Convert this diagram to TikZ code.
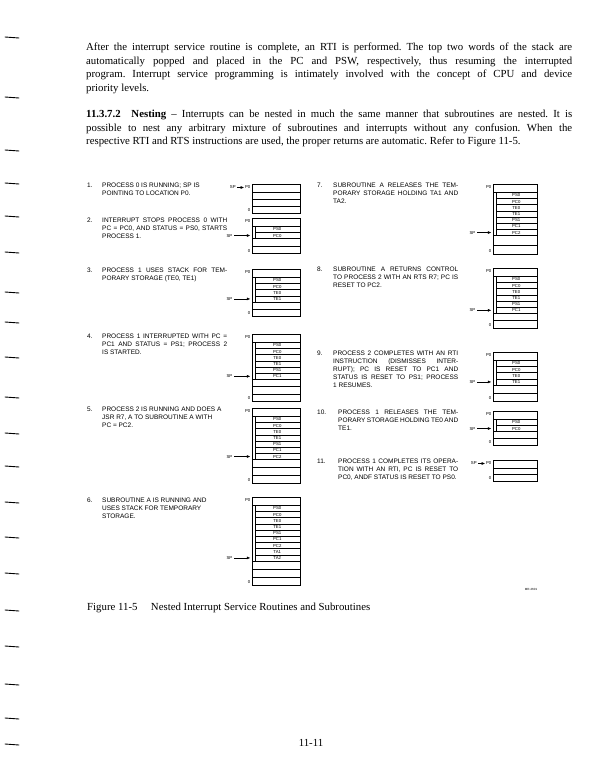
\documentclass[tikz,border=0pt]{standalone}
\usepackage{fontspec}
\setmainfont{Liberation Serif}
\newfontfamily\figsans{Liberation Sans}
\usetikzlibrary{arrows.meta,positioning}
\frenchspacing

% a line spread to the full width
\newcommand{\jl}[2][125pt]{\makebox[#1][s]{#2}}

% stack: name, left x, right x, top y, no. of entries, entries, empty rows, empty row height
\newcommand{\stackpic}[8]{%
  \pgfmathsetmacro{\stent}{#4+8}%
  \pgfmathsetmacro{\stemp}{\stent+#5*6.2}%
  \pgfmathsetmacro{\stbot}{\stemp+#7*#8}%
  \node[stacklbl, anchor=east] (#1-p0) at ({#2-1.5},{#4+3.5}) {P0};
  \draw[stackline] (#2,\stent) -- (#3,\stent);
  \ifnum#5>0
    \foreach \e [count=\i] in {#6}
      \node[entry, minimum width={(#3-#2-3)*1pt}, anchor=north east]
        (#1-\i) at (#3,{\stent+(\i-1)*6.2}) {\e};
  \fi
  \foreach \j in {1,...,#7}
    \draw[stackline] (#2,{\stemp+(\j-1)*#8}) -- (#3,{\stemp+(\j-1)*#8});
  \draw[stackline] (#2,#4) rectangle (#3,\stbot);
  \node[stacklbl, anchor=east] (#1-zero) at ({#2-1.5},{\stbot-3}) {0};
}

\begin{document}
\begin{tikzpicture}[x=1pt, y=-1pt,
    bodytxt/.style={font=\fontsize{10.8}{13.5}\selectfont, inner sep=0,
                    anchor=north west, align=left},
    itemnum/.style={font=\figsans\fontsize{6.5}{8}\selectfont, inner sep=0,
                    anchor=north west},
    itemtxt/.style={itemnum, align=left},
    stacklbl/.style={font=\figsans\fontsize{4.3}{5}\selectfont, inner sep=0},
    entry/.style={draw, line width=0.45pt, minimum height=6.2pt, inner sep=0,
                  font=\figsans\fontsize{4.3}{5}\selectfont},
    stackline/.style={line width=0.6pt},
    sparrow/.style={-{Triangle[length=3.2pt,width=2.6pt]}, line width=0.5pt},
    marginmark/.style={line width=0.9pt, line cap=round},
  ]
  \fill[white] (0,0) rectangle (604,783);
  \useasboundingbox (0,0) rectangle (604,783);

  % binder marks on the left edge
  \foreach \y in {37,97,150,183,216,252,292,322,357,397,433,466,502,537,573,610,646,684,718,744}
    \draw[marginmark] (5,\y) -- (19,\y+1);

  % running text
  \node[bodytxt] (para1) at (86,43) {%
    \jl[486pt]{After the interrupt service routine is complete, an RTI is performed. The top two words of the stack are}\\
    \jl[486pt]{automatically popped and placed in the PC and PSW, respectively, thus resuming the interrupted}\\
    \jl[486pt]{program. Interrupt service programming is intimately involved with the concept of CPU and device}\\
    priority levels.};
  \node[bodytxt] (para2) at (86,110) {%
    \jl[486pt]{\textbf{11.3.7.2\quad Nesting} – Interrupts can be nested in much the same manner that subroutines are nested. It is}\\
    \jl[486pt]{possible to nest any arbitrary mixture of subroutines and interrupts without any confusion. When the}\\
    respective RTI and RTS instructions are used, the proper returns are automatic. Refer to Figure 11-5.};

  % left column
  \node[itemnum] (n1) at (87,182.4) {1.};
  \node[itemtxt] (t1) at (102,182.4) {PROCESS 0 IS RUNNING; SP IS\\
    POINTING TO LOCATION P0.};
  \node[itemnum] (n2) at (87,217.4) {2.};
  \node[itemtxt] (t2) at (102,217.4) {\jl{INTERRUPT STOPS PROCESS 0 WITH}\\
    \jl{PC = PC0, AND STATUS = PS0, STARTS}\\ PROCESS 1.};
  \node[itemnum] (n3) at (87,267.4) {3.};
  \node[itemtxt] (t3) at (102,267.4) {\jl{PROCESS 1 USES STACK FOR TEM-}\\
    PORARY STORAGE (TE0, TE1)};
  \node[itemnum] (n4) at (87,333.4) {4.};
  \node[itemtxt] (t4) at (102,333.4) {\jl{PROCESS 1 INTERRUPTED WITH PC =}\\
    \jl{PC1 AND STATUS = PS1; PROCESS 2}\\ IS STARTED.};
  \node[itemnum] (n5) at (87,406.4) {5.};
  \node[itemtxt] (t5) at (102,406.4) {PROCESS 2 IS RUNNING AND DOES A\\
    JSR R7, A TO SUBROUTINE A WITH\\ PC = PC2.};
  \node[itemnum] (n6) at (87,497.4) {6.};
  \node[itemtxt] (t6) at (102,497.4) {SUBROUTINE A IS RUNNING AND\\
    USES STACK FOR TEMPORARY\\ STORAGE.};

  % right column
  \node[itemnum] (n7) at (317,182.4) {7.};
  \node[itemtxt] (t7) at (333,182.4) {\jl{SUBROUTINE A RELEASES THE TEM-}\\
    \jl{PORARY STORAGE HOLDING TA1 AND}\\ TA2.};
  \node[itemnum] (n8) at (317,266.4) {8.};
  \node[itemtxt] (t8) at (333,266.4) {\jl{SUBROUTINE A RETURNS CONTROL}\\
    \jl{TO PROCESS 2 WITH AN RTS R7; PC IS}\\ RESET TO PC2.};
  \node[itemnum] (n9) at (317,350.4) {9.};
  \node[itemtxt] (t9) at (333,350.4) {\jl{PROCESS 2 COMPLETES WITH AN RTI}\\
    \jl{INSTRUCTION (DISMISSES INTER-}\\
    \jl{RUPT); PC IS RESET TO PC1 AND}\\
    \jl{STATUS IS RESET TO PS1; PROCESS}\\ 1 RESUMES.};
  \node[itemnum] (n10) at (317,409.4) {10.};
  \node[itemtxt] (t10) at (338,409.4) {\jl[120pt]{PROCESS 1 RELEASES THE TEM-}\\
    \jl[120pt]{PORARY STORAGE HOLDING TE0 AND}\\ TE1.};
  \node[itemnum] (n11) at (317,458.4) {11.};
  \node[itemtxt] (t11) at (338,458.4) {\jl[120pt]{PROCESS 1 COMPLETES ITS OPERA-}\\
    \jl[120pt]{TION WITH AN RTI, PC IS RESET TO}\\ PC0, ANDF STATUS IS RESET TO PS0.};

  % stacks
  \stackpic{st1}{252}{300}{184}{0}{}{3}{7}
  \stackpic{st2}{252}{300}{218}{2}{PS0,PC0}{2}{7.6}
  \stackpic{st3}{252}{300}{269}{4}{PS0,PC0,TE0,TE1}{2}{7.2}
  \stackpic{st4}{252}{300}{334}{6}{PS0,PC0,TE0,TE1,PS1,PC1}{3}{7.3}
  \stackpic{st5}{252}{300}{408}{7}{PS0,PC0,TE0,TE1,PS1,PC1,PC2}{3}{7.9}
  \stackpic{st6}{252}{300}{497}{9}{PS0,PC0,TE0,TE1,PS1,PC1,PC2,TA1,TA2}{3}{8}
  \stackpic{st7}{493}{537}{184}{7}{PS0,PC0,TE0,TE1,PS1,PC1,PC2}{2}{9.5}
  \stackpic{st8}{493}{537}{268}{6}{PS0,PC0,TE0,TE1,PS1,PC1}{2}{7.4}
  \stackpic{st9}{493}{537}{352}{4}{PS0,PC0,TE0,TE1}{2}{8}
  \stackpic{st10}{493}{537}{411}{2}{PS0,PC0}{2}{7}
  \stackpic{st11}{493}{537}{460}{0}{}{2}{6.5}

  % stack pointers
  \node[stacklbl, left=9pt of st1-p0] (sp1) {SP};
  \node[stacklbl, left=22pt of st2-2.west] (sp2) {SP};
  \node[stacklbl, left=22pt of st3-4.west] (sp3) {SP};
  \node[stacklbl, left=22pt of st4-6.west] (sp4) {SP};
  \node[stacklbl, left=22pt of st5-7.west] (sp5) {SP};
  \node[stacklbl, left=22pt of st6-9.west] (sp6) {SP};
  \node[stacklbl, left=20pt of st7-7.west] (sp7) {SP};
  \node[stacklbl, left=20pt of st8-6.west] (sp8) {SP};
  \node[stacklbl, left=20pt of st9-4.west] (sp9) {SP};
  \node[stacklbl, left=20pt of st10-2.west] (sp10) {SP};
  \node[stacklbl, left=9pt of st11-p0] (sp11) {SP};

  \draw[sparrow, shorten <=1.5pt, shorten >=1pt] (sp1) -- (st1-p0);
  \draw[sparrow, shorten <=1.5pt, shorten >=4.5pt] (sp2) -- (st2-2);
  \draw[sparrow, shorten <=1.5pt, shorten >=4.5pt] (sp3) -- (st3-4);
  \draw[sparrow, shorten <=1.5pt, shorten >=4.5pt] (sp4) -- (st4-6);
  \draw[sparrow, shorten <=1.5pt, shorten >=4.5pt] (sp5) -- (st5-7);
  \draw[sparrow, shorten <=1.5pt, shorten >=4.5pt] (sp6) -- (st6-9);
  \draw[sparrow, shorten <=1.5pt, shorten >=4.5pt] (sp7) -- (st7-7);
  \draw[sparrow, shorten <=1.5pt, shorten >=4.5pt] (sp8) -- (st8-6);
  \draw[sparrow, shorten <=1.5pt, shorten >=4.5pt] (sp9) -- (st9-4);
  \draw[sparrow, shorten <=1.5pt, shorten >=4.5pt] (sp10) -- (st10-2);
  \draw[sparrow, shorten <=1.5pt, shorten >=1pt] (sp11) -- (st11-p0);

  % drawing number, caption and page number
  \node[stacklbl, font=\figsans\fontsize{3}{3.5}\selectfont] (mr) at (531,589) {MR-2601};
  \node[bodytxt] (cap) at (87,603) {Figure 11-5\quad\ Nested Interrupt Service Routines and Subroutines};
  \node[bodytxt, anchor=base] (pg) at (311,746.5) {11-11};

\end{tikzpicture}
\end{document}
